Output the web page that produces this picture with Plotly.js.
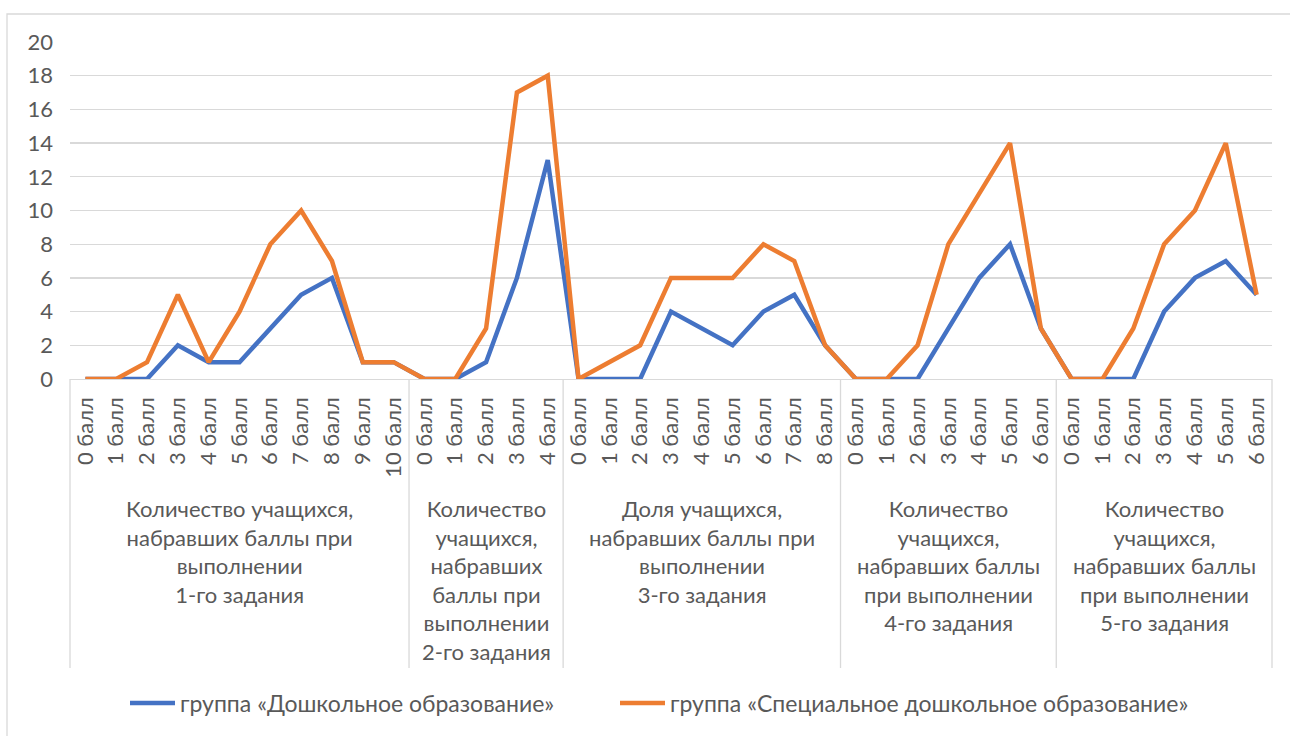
<!DOCTYPE html>
<html>
<head>
<meta charset="utf-8">
<script src="https://cdn.plot.ly/plotly-3.0.1.min.js"></script>
<style>
html,body{margin:0;padding:0;background:#fff;}
#chart{width:1290px;height:736px;}
</style>
</head>
<body>
<div id="chart"></div>
<script>
// ---- Data ----
const groupTitles = [
  "Количество учащихся,<br>набравших баллы при<br>выполнении<br>1-го задания",
  "Количество<br>учащихся,<br>набравших<br>баллы при<br>выполнении<br>2-го задания",
  "Доля учащихся,<br>набравших баллы при<br>выполнении<br>3-го задания",
  "Количество<br>учащихся,<br>набравших баллы<br>при выполнении<br>4-го задания",
  "Количество<br>учащихся,<br>набравших баллы<br>при выполнении<br>5-го задания"
];
const scores1 = ["0 балл","1 балл","2 балл","3 балл","4 балл","5 балл","6 балл","7 балл","8 балл","9 балл","10 балл"];
const scores2 = ["0 балл","1 балл","2 балл","3 балл","4 балл"];
const scores3 = ["0 балл","1 балл","2 балл","3 балл","4 балл","5 балл","6 балл","7 балл","8 балл"];
const scores4 = ["0 балл","1 балл","2 балл","3 балл","4 балл","5 балл","6 балл"];
const scores5 = ["0 балл","1 балл","2 балл","3 балл","4 балл","5 балл","6 балл"];

const preschool1 = [0,0,0,2,1,1,3,5,6,1,1];
const preschool2 = [0,0,1,6,13];
const preschool3 = [0,0,0,4,3,2,4,5,2];
const preschool4 = [0,0,0,3,6,8,3];
const preschool5 = [0,0,0,4,6,7,5];

const special1 = [0,0,1,5,1,4,8,10,7,1,1];
const special2 = [0,0,3,17,18];
const special3 = [0,1,2,6,6,6,8,7,2];
const special4 = [0,0,2,8,11,14,3];
const special5 = [0,0,3,8,10,14,5];

const seriesNames = ["группа «Дошкольное образование»", "группа «Специальное дошкольное образование»"];

// ---- Build ----
const scoreGroups = [scores1, scores2, scores3, scores4, scores5];
const labels = [].concat(...scoreGroups);
const idx = labels.map((_, i) => i);
const yBlue = [].concat(preschool1, preschool2, preschool3, preschool4, preschool5);
const yOrange = [].concat(special1, special2, special3, special4, special5);
const N = labels.length;

const FONT = "Lato, 'Open Sans', sans-serif";
const TXT = "#595959";
const GRID = "#d9d9d9";

const traces = [
  {x: idx, y: yBlue, type: "scatter", mode: "lines", name: seriesNames[0], legend: "legend",
   line: {color: "#4472C4", width: 4.5}},
  {x: idx, y: yOrange, type: "scatter", mode: "lines", name: seriesNames[1], legend: "legend2",
   line: {color: "#ED7D31", width: 4.5}}
];

// group boundaries & annotations
const shapes = [];
const annotations = [];
let start = 0;
const sepBottom = (379 - 668) / 337;
shapes.push({type: "line", xref: "paper", yref: "paper", x0: 0, x1: 0, y0: 0, y1: sepBottom,
  line: {color: GRID, width: 1.3}});
scoreGroups.forEach((g, k) => {
  const end = start + g.length;
  const xp = end / N;
  shapes.push({type: "line", xref: "paper", yref: "paper", x0: xp, x1: xp, y0: 0, y1: sepBottom,
    line: {color: GRID, width: 1.3}});
  annotations.push({xref: "x", yref: "paper", x: (start + end - 1) / 2, y: (379 - 493) / 337,
    xanchor: "center", yanchor: "top", showarrow: false, align: "center",
    text: groupTitles[k], font: {family: FONT, size: 22, color: TXT}});
  start = end;
});
// outer chart border
shapes.push({type: "rect", xref: "paper", yref: "paper",
  x0: (7 - 70) / 1202, x1: (1310 - 70) / 1202, y0: (379 - 760) / 337, y1: (379 - 14) / 337,
  line: {color: GRID, width: 1.3}, fillcolor: "rgba(0,0,0,0)"});

const legendBase = {orientation: "h", xanchor: "left", y: (379 - 703) / 337, yanchor: "middle",
  font: {family: FONT, size: 23, color: TXT}, itemwidth: 45, bgcolor: "rgba(0,0,0,0)"};

const layout = {
  width: 1290, height: 736,
  margin: {l: 70, r: 18, t: 42, b: 357},
  paper_bgcolor: "#fff", plot_bgcolor: "#fff",
  showlegend: true,
  legend: Object.assign({}, legendBase, {x: (125 - 70) / 1202}),
  legend2: Object.assign({}, legendBase, {x: (615 - 70) / 1202}),
  xaxis: {range: [-0.5, N - 0.5], tickmode: "array", tickvals: idx, ticktext: labels,
    tickangle: -90, tickfont: {family: FONT, size: 22, color: TXT},
    showgrid: false, zeroline: false, showline: true, linecolor: GRID, linewidth: 1.3,
    ticks: "", ticklabelstandoff: 8, fixedrange: true},
  yaxis: {range: [0, 20], dtick: 2, tick0: 0, showgrid: true, gridcolor: GRID, gridwidth: 1.3,
    zeroline: false, showline: false, ticks: "", tickfont: {family: FONT, size: 22, color: TXT},
    ticklabelstandoff: 16, fixedrange: true},
  shapes: shapes,
  annotations: annotations,
  hovermode: false
};

Plotly.newPlot("chart", traces, layout, {displayModeBar: false, staticPlot: true});
</script>
</body>
</html>
